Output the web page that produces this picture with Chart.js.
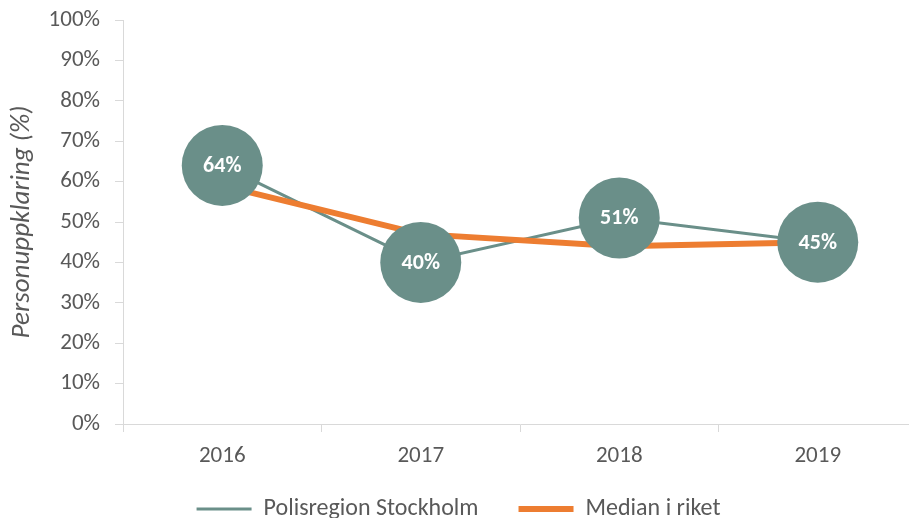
<!DOCTYPE html>
<html>
<head>
<meta charset="utf-8">
<script src="https://cdn.jsdelivr.net/npm/chart.js@4/dist/chart.umd.min.js"></script>
<style>
  html, body { margin: 0; padding: 0; background: #fff; overflow: hidden; }
  #wrap { width: 918px; height: 531px; position: relative; }
</style>
</head>
<body>
<div id="wrap"><canvas id="myChart"></canvas></div>
<script>
const years = ['2016', '2017', '2018', '2019'];
const stockholm = [64, 40, 51, 45];
const median = [59, 47, 44, 45];
const yTicks = [0, 10, 20, 30, 40, 50, 60, 70, 80, 90, 100];

const teal = '#6A8F89';
const orange = '#ED7D31';
const grey = '#595959';
const axisGrey = '#D9D9D9';
const font = 'Carlito, Lato, "Open Sans", sans-serif';

// white percentage labels inside the big circles
const circleLabels = {
    id: 'circleLabels',
    afterDatasetsDraw(chart) {
        const meta = chart.getDatasetMeta(2);
        const ctx = chart.ctx;
        ctx.save();
        ctx.fillStyle = '#fff';
        ctx.font = 'bold 22px ' + font;
        ctx.textAlign = 'center';
        ctx.textBaseline = 'middle';
        meta.data.forEach((pt, i) => {
            ctx.fillText(stockholm[i] + '%', pt.x, pt.y + 1);
        });
        ctx.restore();
    }
};

const ctx = document.getElementById('myChart').getContext('2d');
const myChart = new Chart(ctx, {
    type: 'line',
    data: {
        labels: years,
        datasets: [{
            label: 'Polisregion Stockholm',
            data: stockholm,
            borderColor: teal,
            backgroundColor: teal,
            borderWidth: 3,
            pointRadius: 0,
            tension: 0,
            order: 3
        }, {
            label: 'Median i riket',
            data: median,
            borderColor: orange,
            backgroundColor: orange,
            borderWidth: 6,
            borderCapStyle: 'round',
            borderJoinStyle: 'round',
            pointRadius: 0,
            tension: 0,
            order: 2
        }, {
            label: 'points',
            data: stockholm,
            showLine: false,
            clip: false,
            pointRadius: 40.5,
            pointHoverRadius: 40.5,
            pointBackgroundColor: teal,
            pointBorderColor: teal,
            pointBorderWidth: 0,
            order: 1
        }]
    },
    options: {
        responsive: true,
        maintainAspectRatio: false,
        animation: false,
        layout: {
            autoPadding: false,
            padding: { top: 20, right: 1, left: 0, bottom: 0 }
        },
        plugins: {
            tooltip: { enabled: false },
            legend: {
                display: true,
                position: 'bottom',
                labels: {
                    usePointStyle: true,
                    pointStyle: 'line',
                    pointStyleWidth: 55,
                    padding: 40,
                    color: grey,
                    font: { family: font, size: 24 },
                    filter: item => item.datasetIndex !== 2,
                    sort: (a, b) => a.datasetIndex - b.datasetIndex
                }
            }
        },
        scales: {
            x: {
                offset: true,
                grid: {
                    offset: true,
                    drawOnChartArea: false,
                    drawTicks: true,
                    tickLength: 8,
                    color: axisGrey
                },
                border: { color: axisGrey, width: 1 },
                ticks: {
                    color: grey,
                    padding: 10,
                    font: { family: font, size: 23 }
                },
                afterFit: s => {
                    s.height = 33;
                    s.paddingLeft = 0;
                    s.paddingRight = 0;
                    s._computeLabelArea = () => undefined; // labels spill below the short box
                }
            },
            y: {
                min: 0,
                max: 100,
                afterBuildTicks: s => { s.ticks = yTicks.map(v => ({ value: v })); },
                grid: {
                    drawOnChartArea: false,
                    drawTicks: true,
                    tickLength: 8,
                    color: axisGrey
                },
                border: { color: axisGrey, width: 1 },
                ticks: {
                    color: grey,
                    padding: 15,
                    font: { family: font, size: 23 },
                    callback: v => v + '%'
                },
                title: {
                    display: true,
                    text: 'Personuppklaring (%)',
                    color: grey,
                    padding: { top: 6, bottom: 0 },
                    font: { family: font, size: 27, style: 'italic' }
                },
                afterFit: s => {
                    s.width = 123;
                    s.paddingTop = 0;
                    s.paddingBottom = 0;
                }
            }
        }
    },
    plugins: [circleLabels]
});
</script>
</body>
</html>
